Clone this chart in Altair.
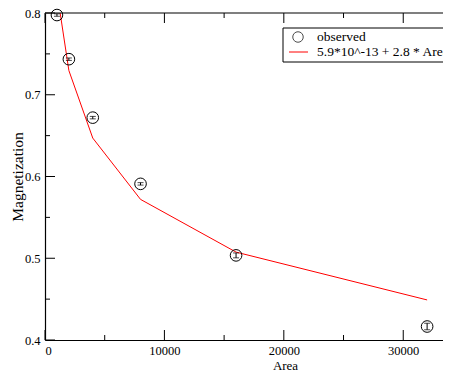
import altair as alt
import pandas as pd

# ---- data ----
area = [1000, 2000, 4000, 8000, 16000, 32000]
magnetization = [0.7975, 0.7435, 0.672, 0.591, 0.5035, 0.4165]
error = [0.0015, 0.0015, 0.0015, 0.0015, 0.003, 0.004]
fit = [0.826, 0.7296, 0.647, 0.572, 0.5075, 0.449]

x_major = [0, 10000, 20000, 30000]
x_minor = [5000, 15000, 25000]
y_major = [0.4, 0.5, 0.6, 0.7, 0.8]
y_minor = [0.45, 0.55, 0.65, 0.75]

legend_labels = ["observed", "5.9*10^-13 + 2.8 * Area^-0.175"]

FONT = "Liberation Serif"
W, H = 398, 327
X_MAX = 33330

df = pd.DataFrame({
    "Area": area,
    "Magnetization": magnetization,
    "lo": [m - e for m, e in zip(magnetization, error)],
    "hi": [m + e for m, e in zip(magnetization, error)],
    "fit": fit,
})

xs = alt.Scale(domain=[0, X_MAX], nice=False, zero=False, padding=0)
ys = alt.Scale(domain=[0.4, 0.8], nice=False, zero=False, padding=0)

x_axis = alt.Axis(values=x_major, format="d", ticks=False, grid=False,
                  domainColor="black", domainWidth=1.2, labelPadding=4,
                  labelFontSize=12.5, title="Area", titleX=240, titleY=29,
                  titleBaseline="alphabetic", titleFontSize=13)
y_axis = alt.Axis(values=y_major, format=".1f", ticks=False, grid=False,
                  domainColor="black", domainWidth=1.2, labelPadding=5,
                  labelFontSize=12.5, title="Magnetization", titleX=-28,
                  titleY=H / 2, titleAngle=270, titleBaseline="middle",
                  titleFontSize=15.5)


def X(field):
    return alt.X(field, scale=xs, axis=x_axis, title="Area")


def Y(field):
    return alt.Y(field, scale=ys, axis=y_axis, title="Magnetization")


base = alt.Chart(df)

fit_line = base.mark_line(color="#ff0000", strokeWidth=1, clip=True).encode(
    x=X("Area:Q"), y=Y("fit:Q"))

err_rule = base.mark_rule(color="black", strokeWidth=1).encode(
    x=X("Area:Q"), y=Y("lo:Q"), y2="hi:Q")
cap_lo = base.mark_tick(orient="horizontal", size=6, thickness=1, color="black").encode(
    x=X("Area:Q"), y=Y("lo:Q"))
cap_hi = base.mark_tick(orient="horizontal", size=6, thickness=1, color="black").encode(
    x=X("Area:Q"), y=Y("hi:Q"))
points = base.mark_point(shape="circle", filled=False, color="black",
                         size=135, strokeWidth=1, opacity=1).encode(
    x=X("Area:Q"), y=Y("Magnetization:Q"))


# inward ticks
def xticks(vals, length):
    d = pd.DataFrame({"Area": vals})
    bottom = alt.Chart(d).mark_rule(color="black", strokeWidth=1).encode(
        x=X("Area:Q"), y=alt.value(H), y2=alt.value(H - length))
    top = alt.Chart(d).mark_rule(color="black", strokeWidth=1).encode(
        x=X("Area:Q"), y=alt.value(0), y2=alt.value(length))
    return [bottom, top]


def yticks(vals, length):
    d = pd.DataFrame({"Magnetization": vals})
    return [alt.Chart(d).mark_rule(color="black", strokeWidth=1).encode(
        y=Y("Magnetization:Q"), x=alt.value(0), x2=alt.value(length))]


top_frame = alt.Chart(pd.DataFrame({"a": [0]})).mark_rule(
    color="black", strokeWidth=1.2).encode(
    x=alt.value(0), x2=alt.value(W + 10), y=alt.value(0))

# legend
leg = pd.DataFrame({"a": [0]})
leg_box = alt.Chart(leg).mark_rect(fill="white", stroke="black", strokeWidth=1).encode(
    x=alt.value(238), x2=alt.value(W + 30), y=alt.value(15), y2=alt.value(49))
leg_circle = alt.Chart(leg).mark_point(shape="circle", filled=False, color="black",
                                       size=110, strokeWidth=1).encode(
    x=alt.value(253), y=alt.value(24))
leg_line = alt.Chart(leg).mark_rule(color="#ff0000", strokeWidth=1).encode(
    x=alt.value(244), x2=alt.value(263), y=alt.value(39))
leg_t1 = alt.Chart(leg).mark_text(font=FONT, fontSize=13.5, align="left",
                                  baseline="middle", color="black").encode(
    x=alt.value(272), y=alt.value(24), text=alt.value(legend_labels[0]))
leg_t2 = alt.Chart(leg).mark_text(font=FONT, fontSize=13.5, align="left",
                                  baseline="middle", color="black").encode(
    x=alt.value(272), y=alt.value(39), text=alt.value(legend_labels[1]))

layers = [fit_line, err_rule, cap_lo, cap_hi, points]
layers += xticks(x_major, 10) + xticks(x_minor, 5)
layers += yticks(y_major, 10) + yticks(y_minor, 5)
layers += [top_frame, leg_box, leg_circle, leg_line, leg_t1, leg_t2]

chart = alt.layer(*layers).properties(
    width=W, height=H,
    padding={"left": 37, "top": 5, "right": 0, "bottom": 34},
    autosize="none",
    background="white",
).configure_view(stroke=None).configure_axis(
    labelFont=FONT, titleFont=FONT, labelColor="black", titleColor="black",
    titleFontWeight="normal",
).configure_scale(continuousPadding=0)

chart.save("out.html", embed_options={"renderer": "svg", "actions": False})
